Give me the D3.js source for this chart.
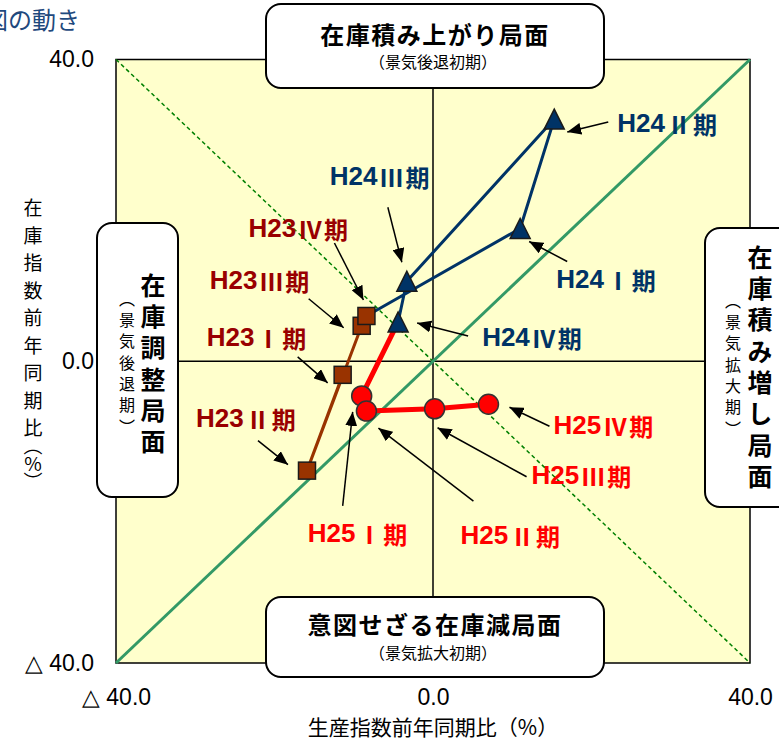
<!DOCTYPE html>
<html>
<head>
<meta charset="utf-8">
<script src="https://cdn.jsdelivr.net/npm/d3@7"></script>
<style>
  body { margin: 0; background: #fff; }
  svg { display: block; font-family: "Noto Sans CJK JP", sans-serif; }
  .vt { writing-mode: vertical-rl; text-orientation: upright; }
</style>
</head>
<body>
<div id="chart"></div>
<script>
// 生産指数・在庫指数 前年同期比 (%)
const periods = ["Ⅰ", "Ⅱ", "Ⅲ", "Ⅳ"];
const h23Prod = [-11.4, -15.9, -9.0, -8.4];
const h23Inv  = [-1.8, -14.5, 4.7, 6.0];
const h24Prod = [11.0, 15.3, -3.3, -4.4];
const h24Inv  = [17.6, 32.1, 10.6, 5.2];
const h25Prod = [-9.0, -8.4, 0.2, 7.0];
const h25Inv  = [-4.6, -6.6, -6.3, -5.7];
const tickValues = [-40, 0, 40];
const tickLabels = ["△ 40.0", "0.0", "40.0"];
const diagUp = [[-40, -40], [40, 40]];
const diagDown = [[-40, 40], [40, -40]];

const width = 779;
const height = 740;
const margin = { top: 59.5, right: 29, bottom: 77, left: 116 };

const series = [
  { year: "H23", prod: h23Prod, inv: h23Inv, color: "#993300", text: "#990000", shape: "square", lw: 3 },
  { year: "H24", prod: h24Prod, inv: h24Inv, color: "#003366", text: "#003366", shape: "triangle", lw: 3 },
  { year: "H25", prod: h25Prod, inv: h25Inv, color: "#ff0000", text: "#ff0000", shape: "circle", lw: 5 }
];
series.forEach(s => {
  s.points = s.prod.map((p, i) => ({ x: p, y: s.inv[i], q: periods[i] }));
});

// label / arrow offsets from each point (px): label x,y, arrow from x,y, arrow to x,y
const notes = {
  "H23": [[-136, -38, -45, -18, -15, 8], [-111, -53, -49, -30, -19, -6], [-152, -46, -53, -27, -18, 2], [-118, -88, -32, -73, -3, -16]],
  "H24": [[36, 51, 47, 33, 9, 13], [63, 4, 54, 3, 13, 13], [-77, -105, -19, -74, -5, -19], [84, 15, 70, 14, 19, 1]],
  "H25": [[-54, 137, -19, 110, -9, 16], [94, 124, 107, 90, 12, 17], [97, 66, 92, 68, 3, 19], [65, 21, 61, 22, 21, 3]]
};

const svg = d3.select("#chart")
  .append("svg")
  .attr("width", width)
  .attr("height", height);

const x = d3.scaleLinear().domain([-40, 40]).range([margin.left, width - margin.right]);
const y = d3.scaleLinear().domain([-40, 40]).range([height - margin.bottom, margin.top]);

svg.append("defs").append("marker")
  .attr("id", "arr")
  .attr("markerUnits", "userSpaceOnUse")
  .attr("markerWidth", 15).attr("markerHeight", 12)
  .attr("refX", 14).attr("refY", 6)
  .attr("orient", "auto")
  .append("path")
  .attr("d", "M0,0 L14,6 L0,12 Z")
  .attr("fill", "#000");

// plot area
svg.append("rect")
  .attr("x", x(-40)).attr("y", y(40))
  .attr("width", x(40) - x(-40)).attr("height", y(-40) - y(40))
  .attr("fill", "#ffffcc")
  .attr("stroke", "#000").attr("stroke-width", 1.5);

svg.append("line")
  .attr("x1", x(0)).attr("x2", x(0)).attr("y1", y(40)).attr("y2", y(-40))
  .attr("stroke", "#000").attr("stroke-width", 1.5);
svg.append("line")
  .attr("x1", x(-40)).attr("x2", x(40)).attr("y1", y(0)).attr("y2", y(0))
  .attr("stroke", "#000").attr("stroke-width", 1.5);

const line = d3.line().x(d => x(d[0])).y(d => y(d[1]));
svg.append("path").attr("d", line(diagDown))
  .attr("stroke", "#008000").attr("stroke-width", 1.5)
  .attr("stroke-dasharray", "4,3").attr("fill", "none");
svg.append("path").attr("d", line(diagUp))
  .attr("stroke", "#339966").attr("stroke-width", 3).attr("fill", "none");

// series lines (each year continues from the last point of the previous one)
const ptLine = d3.line().x(d => x(d.x)).y(d => y(d.y));
series.forEach((s, k) => {
  const pts = k > 0 ? [series[k - 1].points[3], ...s.points] : s.points;
  svg.append("path")
    .attr("d", ptLine(pts))
    .attr("fill", "none")
    .attr("stroke", s.color)
    .attr("stroke-width", s.lw)
    .attr("stroke-linejoin", "round");
});

// markers
series.forEach(s => {
  const g = svg.append("g");
  s.points.forEach(p => {
    const cx = x(p.x), cy = y(p.y);
    if (s.shape === "square") {
      g.append("rect").attr("x", cx - 8.5).attr("y", cy - 8.5)
        .attr("width", 17).attr("height", 17)
        .attr("fill", s.color).attr("stroke", "#1a1a1a").attr("stroke-width", 1.5);
    } else if (s.shape === "triangle") {
      g.append("path").attr("d", `M${cx},${cy - 10} L${cx + 10},${cy + 10} L${cx - 10},${cy + 10} Z`)
        .attr("fill", s.color).attr("stroke", "#1a1a1a").attr("stroke-width", 1.5);
    } else {
      g.append("circle").attr("cx", cx).attr("cy", cy).attr("r", 10)
        .attr("fill", s.color).attr("stroke", "#333").attr("stroke-width", 1.5);
    }
  });
});

// arrows and labels
series.forEach(s => {
  s.points.forEach((p, i) => {
    const n = notes[s.year][i];
    const cx = x(p.x), cy = y(p.y);
    svg.append("line")
      .attr("x1", cx + n[2]).attr("y1", cy + n[3])
      .attr("x2", cx + n[4]).attr("y2", cy + n[5])
      .attr("stroke", "#000").attr("stroke-width", 1.5)
      .attr("marker-end", "url(#arr)");
    const t = svg.append("text")
      .attr("x", cx + n[0]).attr("y", cy + n[1])
      .attr("dominant-baseline", "central")
      .attr("font-weight", "bold")
      .attr("fill", s.text);
    t.append("tspan")
      .attr("font-family", "'Liberation Sans', Arial, sans-serif")
      .attr("font-size", 26)
      .text(s.year);
    t.append("tspan")
      .attr("font-size", 24)
      .attr("dx", 2)
      .attr("letter-spacing", 2)
      .text(p.q + "期");
  });
});

// axes
svg.append("g")
  .attr("transform", `translate(${x(-40)},0)`)
  .call(d3.axisLeft(y).tickValues(tickValues).tickSize(0).tickPadding(22)
    .tickFormat((d, i) => tickLabels[i]))
  .call(g => g.select(".domain").remove())
  .selectAll("text")
  .attr("font-size", 23).attr("font-family", "'Liberation Sans', Arial, sans-serif")
  .style("white-space", "pre").attr("fill", "#000");

svg.append("g")
  .attr("transform", `translate(0,${y(-40)})`)
  .call(d3.axisBottom(x).tickValues(tickValues).tickSize(0).tickPadding(26)
    .tickFormat((d, i) => tickLabels[i]))
  .call(g => g.select(".domain").remove())
  .selectAll("text")
  .attr("font-size", 23).attr("font-family", "'Liberation Sans', Arial, sans-serif")
  .style("white-space", "pre").attr("fill", "#000");

svg.append("text")
  .attr("x", x(0)).attr("y", 726)
  .attr("text-anchor", "middle").attr("dominant-baseline", "central")
  .attr("font-size", 21)
  .text("生産指数前年同期比（%）");

// vertical text: cx = centre line, top = top of first glyph
function vtext(str, cx, top, size, weight, ls) {
  svg.append("text")
    .attr("class", "vt")
    .attr("x", cx).attr("y", top)
    .attr("font-size", size).attr("font-weight", weight)
    .attr("letter-spacing", ls)
    .text(str);
}
vtext("在庫指数前年同期比", 33, 198.5, 19, "normal", 8.5);
vtext("（%）", 33, 436, 19, "normal", -1);

// phase boxes
function box(x0, y0, w, h) {
  svg.append("rect")
    .attr("x", x0).attr("y", y0).attr("width", w).attr("height", h)
    .attr("rx", 15).attr("ry", 15)
    .attr("fill", "#fff").attr("stroke", "#000").attr("stroke-width", 2);
}

box(266, 4, 338, 84);
svg.append("text").attr("x", 435).attr("y", 33)
  .attr("text-anchor", "middle").attr("dominant-baseline", "central")
  .attr("font-size", 24).attr("font-weight", "bold").attr("letter-spacing", 1.5)
  .text("在庫積み上がり局面");
svg.append("text").attr("x", 433).attr("y", 61)
  .attr("text-anchor", "middle").attr("dominant-baseline", "central")
  .attr("font-size", 16)
  .text("（景気後退初期）");

box(266, 597, 338, 80);
svg.append("text").attr("x", 435).attr("y", 623)
  .attr("text-anchor", "middle").attr("dominant-baseline", "central")
  .attr("font-size", 24).attr("font-weight", "bold").attr("letter-spacing", 1.5)
  .text("意図せざる在庫減局面");
svg.append("text").attr("x", 433).attr("y", 652)
  .attr("text-anchor", "middle").attr("dominant-baseline", "central")
  .attr("font-size", 16)
  .text("（景気拡大初期）");

box(97, 223, 81, 274);
vtext("在庫調整局面", 153, 272.5, 25, "bold", 6.4);
vtext("（景気後退期）", 127, 290.7, 16, "normal", 5.3);

box(705, 228, 90, 279);
vtext("在庫積み増し局面", 760, 244.5, 25, "bold", 6.4);
vtext("（景気拡大期）", 733, 292.7, 16, "normal", 5.3);

// title fragment at top-left (cut off in the original)
svg.append("text").attr("x", -16).attr("y", 18)
  .attr("dominant-baseline", "central")
  .attr("font-size", 24).attr("fill", "#1f497d")
  .text("図の動き");
</script>
</body>
</html>
